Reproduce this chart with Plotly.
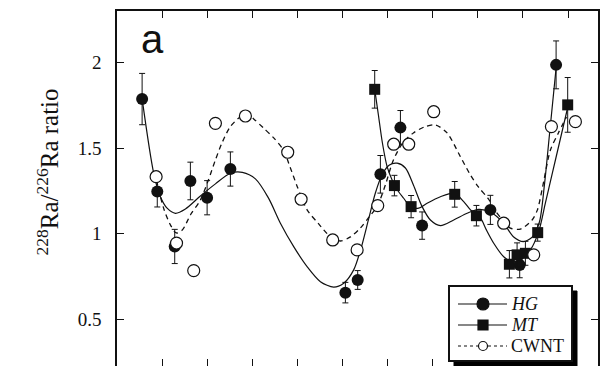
import plotly.graph_objects as go

# ---- measured ratios (x = sampling position index) ----
hg_x = [0.557, 0.893, 1.28, 1.627, 1.998, 2.514, 5.064, 5.337, 5.84, 6.284, 6.765, 8.279, 8.929, 9.736]
hg_y = [1.787, 1.246, 0.925, 1.308, 1.21, 1.378, 0.655, 0.729, 1.347, 1.62, 1.047, 1.139, 0.817, 1.987]
hg_err = [0.15, 0.09, 0.10, 0.11, 0.10, 0.10, 0.06, 0.055, 0.11, 0.10, 0.08, 0.085, 0.075, 0.14]

mt_x = [5.714, 6.151, 6.521, 7.488, 7.969, 8.70, 8.871, 9.055, 9.328, 9.993]
mt_y = [1.844, 1.281, 1.158, 1.23, 1.105, 0.821, 0.876, 0.885, 1.006, 1.753]
mt_err = [0.11, 0.06, 0.065, 0.075, 0.06, 0.08, 0.07, 0.07, 0.05, 0.16]

cw_x = [0.867, 1.32, 1.701, 2.182, 2.847, 3.785, 4.082, 4.783, 5.324, 5.781,
        6.135, 6.468, 7.022, 8.574, 9.24, 9.632, 10.164]
cw_y = [1.333, 0.945, 0.784, 1.645, 1.688, 1.476, 1.201, 0.963, 0.905, 1.164,
        1.523, 1.523, 1.713, 1.061, 0.876, 1.626, 1.655]

# ---- smoothed fit curves ----
hg_fit_x = [0.557, 0.814, 0.962, 1.111, 1.295, 1.517, 1.849, 2.182, 2.514, 2.78, 3.069, 3.357,
            3.623, 3.918, 4.215, 4.51, 4.805, 5.027, 5.248, 5.419, 5.574, 5.729, 5.885, 6.04,
            6.211, 6.395, 6.572, 6.765, 6.949, 7.171, 7.466, 7.763, 8.013, 8.279, 8.568,
            8.789, 9.011, 9.211, 9.366, 9.477, 9.588, 9.736]
hg_fit_y = [1.788, 1.353, 1.216, 1.149, 1.119, 1.144, 1.22, 1.291, 1.353, 1.358, 1.32, 1.209,
            1.061, 0.924, 0.807, 0.719, 0.687, 0.71, 0.788, 0.922, 1.08, 1.238, 1.349, 1.402,
            1.412, 1.384, 1.285, 1.158, 1.08, 1.047, 1.08, 1.119, 1.142, 1.127, 1.063,
            0.982, 0.953, 0.981, 1.068, 1.285, 1.577, 1.969]

mt_fit_x = [5.714, 5.796, 5.885, 5.989, 6.10, 6.217, 6.357, 6.506, 6.69, 6.876, 7.171, 7.488,
            7.687, 7.874, 8.058, 8.19, 8.353, 8.574, 8.767, 8.945, 9.166, 9.35, 9.499, 9.654,
            9.809, 9.98]
mt_fit_y = [1.844, 1.694, 1.53, 1.392, 1.314, 1.255, 1.207, 1.158, 1.149, 1.178, 1.216, 1.236,
            1.187, 1.129, 1.092, 1.022, 0.944, 0.865, 0.835, 0.846, 0.905, 1.012, 1.18, 1.355,
            1.53, 1.723]

cw_fit_x = [0.874, 1.035, 1.184, 1.317, 1.45, 1.627, 1.849, 2.027, 2.182, 2.337, 2.514, 2.736,
            2.891, 3.031, 3.246, 3.475, 3.69, 3.845, 4.0, 4.215, 4.472, 4.732, 4.953, 5.175,
            5.397, 5.574, 5.774, 5.951, 6.129, 6.35, 6.572, 6.816, 7.06, 7.319, 7.614, 7.836,
            8.013, 8.235, 8.39, 8.568, 8.723, 8.945, 9.204, 9.322, 9.432, 9.61, 9.787, 9.965]
cw_fit_y = [1.314, 1.148, 1.051, 1.004, 1.022, 1.109, 1.197, 1.314, 1.431, 1.536, 1.626, 1.684,
            1.70, 1.671, 1.618, 1.56, 1.489, 1.384, 1.273, 1.139, 1.057, 0.982, 0.957, 0.981,
            1.033, 1.092, 1.162, 1.285, 1.431, 1.536, 1.589, 1.624, 1.636, 1.589, 1.45, 1.343,
            1.273, 1.203, 1.133, 1.074, 1.032, 1.027, 1.08, 1.139, 1.267, 1.489, 1.589, 1.682]

y_ticks = [0.5, 1, 1.5, 2]
y_tick_text = ["0.5", "1", "1.5", "2"]
x_ticks = [1, 2, 3, 4, 5, 6, 7, 8, 9, 10]

series_names = ["<i>HG</i>", "<i>MT</i>", "CWNT"]

SERIF = "Liberation Serif"
BLACK = "#111111"

W, H = 604, 366
ML, MR, MT_, MB = 117, 6, 11, 0
PW, PH = W - ML - MR, H - MT_ - MB


def px(x):
    """pixel column -> paper x"""
    return (x - ML) / PW


def py(y):
    """pixel row -> paper y"""
    return (H - MB - y) / PH


fig = go.Figure()

line_style = dict(color=BLACK, width=1.2, shape="spline", smoothing=0.8)
fig.add_trace(go.Scatter(x=cw_fit_x, y=cw_fit_y, mode="lines", showlegend=False,
                         line=dict(color=BLACK, width=1.3, dash="5px,4px", shape="spline", smoothing=0.8)))
fig.add_trace(go.Scatter(x=hg_fit_x, y=hg_fit_y, mode="lines", showlegend=False, line=line_style))
fig.add_trace(go.Scatter(x=mt_fit_x, y=mt_fit_y, mode="lines", showlegend=False, line=line_style))

err_style = dict(color=BLACK, thickness=1, width=3)
fig.add_trace(go.Scatter(x=hg_x, y=hg_y, mode="markers", showlegend=False,
                         error_y=dict(type="data", array=hg_err, **err_style),
                         marker=dict(symbol="circle", size=12, color=BLACK)))
fig.add_trace(go.Scatter(x=mt_x, y=mt_y, mode="markers", showlegend=False,
                         error_y=dict(type="data", array=mt_err, **err_style),
                         marker=dict(symbol="square", size=11, color=BLACK)))
fig.add_trace(go.Scatter(x=cw_x, y=cw_y, mode="markers", showlegend=False,
                         marker=dict(symbol="circle", size=12, color="white",
                                     line=dict(color=BLACK, width=1.2))))
# bottom tick row uses the second x axis
fig.add_trace(go.Scatter(x=[None], y=[None], xaxis="x2", showlegend=False))

tick_common = dict(ticks="inside", ticklen=7, tickwidth=1.3, tickcolor=BLACK,
                   showgrid=False, zeroline=False)
fig.update_layout(
    width=W, height=H,
    margin=dict(l=ML, r=MR, t=MT_, b=MB),
    paper_bgcolor="white", plot_bgcolor="white",
    font=dict(family=SERIF, color=BLACK, size=18),
    showlegend=False,
    xaxis=dict(range=[0, 10.665], tickvals=x_ticks, showticklabels=False,
               side="top", showline=True, linecolor=BLACK, linewidth=1.5, **tick_common),
    xaxis2=dict(range=[0, 10.665], tickvals=x_ticks, showticklabels=False,
                overlaying="x", side="bottom", showline=False, **tick_common),
    yaxis=dict(range=[0.226, 2.302], tickvals=y_ticks, ticktext=y_tick_text,
               showline=True, linecolor=BLACK, linewidth=1.5, mirror="ticks",
               ticklabelstandoff=10, tickfont=dict(size=19, family=SERIF, color=BLACK),
               **tick_common),
)

# ---- boxed legend with drop shadow ----
box_l, box_t, box_r, box_b = 449, 286, 572, 361
shadow = 5
fig.add_shape(type="rect", xref="paper", yref="paper",
              x0=px(box_l + shadow), x1=px(box_r + shadow), y0=py(box_b + shadow), y1=py(box_t + shadow),
              fillcolor="#000000", line=dict(color="#000000", width=1), layer="above")
fig.add_shape(type="rect", xref="paper", yref="paper",
              x0=px(box_l), x1=px(box_r), y0=py(box_b), y1=py(box_t),
              fillcolor="white", line=dict(color=BLACK, width=2), layer="above")

row_y = [304, 325, 346]
sym_l, sym_r, sym_c, text_x = 458, 507, 483, 509
line_dashes = ["solid", "solid", "3px,3px"]
for name, ry, dash in zip(series_names, row_y, line_dashes):
    fig.add_shape(type="line", xref="paper", yref="paper",
                  x0=px(sym_l), x1=px(sym_r), y0=py(ry), y1=py(ry),
                  line=dict(color=BLACK, width=1.2, dash=dash), layer="above")
    fig.add_annotation(text=name, xref="paper", yref="paper", x=px(text_x), y=py(ry),
                       xanchor="left", yanchor="middle", showarrow=False,
                       font=dict(size=18, family=SERIF, color=BLACK))

marker_shapes = [("circle", 6, BLACK, BLACK), ("rect", 5, BLACK, BLACK), ("circle", 4.5, "white", BLACK)]
for (kind, r, fill, edge), ry in zip(marker_shapes, row_y):
    fig.add_shape(type=kind, xref="paper", yref="paper",
                  xsizemode="pixel", ysizemode="pixel",
                  xanchor=px(sym_c), yanchor=py(ry), x0=-r, x1=r, y0=-r, y1=r,
                  fillcolor=fill, line=dict(color=edge, width=1.2), layer="above")

# axis title and panel letter
fig.add_annotation(text="<sup>228</sup>Ra/<sup>226</sup>Ra ratio", textangle=-90,
                   xref="paper", yref="paper", x=px(47.5), y=py(172),
                   xanchor="center", yanchor="middle", showarrow=False,
                   font=dict(size=25, family=SERIF, color=BLACK))
fig.add_annotation(text="a", xref="paper", yref="paper", x=px(152), y=py(39),
                   xanchor="center", yanchor="middle", showarrow=False,
                   font=dict(size=40, family="Liberation Sans", color=BLACK))

fig.write_html("out.html")
